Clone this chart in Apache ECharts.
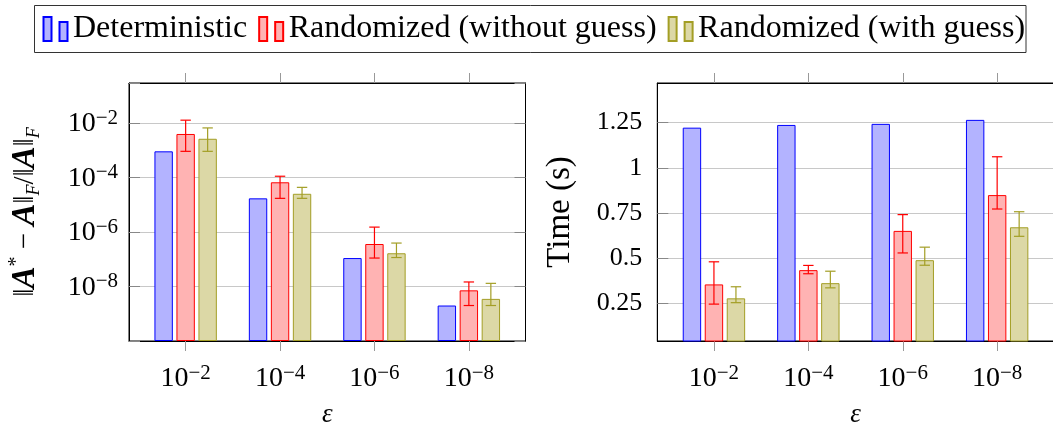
<!DOCTYPE html>
<html><head><meta charset="utf-8">
<script src="https://cdn.jsdelivr.net/npm/echarts@6/dist/echarts.min.js"></script>
<style>html,body{margin:0;padding:0;background:#fff}#c{width:1053px;height:426px}</style>
</head><body><div id="c"></div>
<script>
// ---- data ----
const epsExponents = [-2, -4, -6, -8];            // categories: epsilon = 10^k
const seriesNames = ['Deterministic', 'Randomized (without guess)', 'Randomized (with guess)'];
// relative error ||A* - A||_F / ||A||_F
const errDet          = [9.0e-4, 1.7e-5, 1.1e-7, 2.0e-9];
const errRandNoGuess  = [3.9e-3, 6.6e-5, 3.6e-7, 7.2e-9];
const errRandNoGuessLo= [9.0e-4, 1.7e-5, 1.1e-7, 2.0e-9];
const errRandNoGuessHi= [1.25e-2, 1.1e-4, 1.5e-6, 1.46e-8];
const errRandGuess    = [2.6e-3, 2.5e-5, 1.65e-7, 3.5e-9];
const errRandGuessLo  = [9.0e-4, 1.7e-5, 1.15e-7, 2.0e-9];
const errRandGuessHi  = [6.5e-3, 4.3e-5, 3.9e-7, 1.3e-8];
// time (s)
const timeDet           = [1.222, 1.237, 1.243, 1.265];
const timeRandNoGuess   = [0.355, 0.434, 0.651, 0.849];
const timeRandNoGuessLo = [0.246, 0.414, 0.529, 0.772];
const timeRandNoGuessHi = [0.480, 0.460, 0.741, 1.061];
const timeRandGuess     = [0.278, 0.362, 0.489, 0.671];
const timeRandGuessLo   = [0.254, 0.336, 0.461, 0.621];
const timeRandGuessHi   = [0.342, 0.428, 0.561, 0.757];
// tick labels
const errTickExponents = [-2, -4, -6, -8];
const timeTicks = [0.25, 0.5, 0.75, 1, 1.25];

// ---- styling constants ----
const SERIF = "'Liberation Serif', 'DejaVu Serif', serif";
const LOG_FLOOR = -10;      // bottom of the log axis (decades)
const LOG_TOP = -0.54;
const BAR_W = 18.4, BAR_GAP = 3.6;
const colors = [
  {fill: '#b3b3ff', stroke: '#0000ff'},
  {fill: '#ffb3b3', stroke: '#ff0000'},
  {fill: '#dcd8a6', stroke: '#a39e25'}
];
const toLog = v => Math.log10(v) - LOG_FLOOR;
const tickRich = {
  b: {fontFamily: SERIF, fontSize: 28, lineHeight: 30, color: '#000', verticalAlign: 'bottom'},
  s: {fontFamily: SERIF, fontSize: 21, lineHeight: 21, color: '#000', verticalAlign: 'top'}
};
const powLabel = e => '{b|10}{s|−' + Math.abs(e) + '}';

function pairs(arr, f) { return arr.map((v, i) => [i, f ? f(v) : v]); }
function errData(lo, hi, f) { return lo.map((v, i) => [i, f ? f(v) : v, f ? f(hi[i]) : hi[i]]); }

function errRender(offset, color) {
  return function (params, api) {
    const x = api.value(0);
    const pLo = api.coord([x, api.value(1)]);
    const pHi = api.coord([x, api.value(2)]);
    const cx = pLo[0] + offset, hw = 5.2;
    const st = {stroke: color, lineWidth: 1.2};
    return {type: 'group', children: [
      {type: 'line', shape: {x1: cx, y1: pLo[1], x2: cx, y2: pHi[1]}, style: st},
      {type: 'line', shape: {x1: cx - hw, y1: pLo[1], x2: cx + hw, y2: pLo[1]}, style: st},
      {type: 'line', shape: {x1: cx - hw, y1: pHi[1], x2: cx + hw, y2: pHi[1]}, style: st}
    ]};
  };
}

function barSeries(name, idx, data, axis) {
  return {
    type: 'bar', name: name, xAxisIndex: axis, yAxisIndex: axis,
    data: data, barWidth: BAR_W, barGap: (BAR_GAP / BAR_W * 100) + '%',
    itemStyle: {color: colors[idx].fill, borderColor: colors[idx].stroke, borderWidth: 1},
    clip: true, z: 2
  };
}

const gridBox = {show: true, borderColor: '#000', borderWidth: 1, backgroundColor: 'transparent',
  containLabel: false, outerBoundsMode: 'none'};
const xCommon = (gi) => ({
  type: 'value', gridIndex: gi, min: -0.6, max: 3.6, position: 'bottom',
  axisLine: {show: true, onZero: false, lineStyle: {color: '#000', width: 1}},
  axisTick: {show: true, length: 10, lineStyle: {color: '#999'}, customValues: [0, 1, 2, 3]},
  axisLabel: {customValues: [0, 1, 2, 3], margin: 22, rich: tickRich,
    formatter: v => powLabel(epsExponents[Math.round(v)])},
  splitLine: {show: false},
  name: 'ε', nameLocation: 'middle', nameGap: 60,
  nameTextStyle: {fontFamily: SERIF, fontSize: 27, fontStyle: 'italic', color: '#000'}
});
const xTop = (gi) => ({
  type: 'value', gridIndex: gi, min: -0.6, max: 3.6, position: 'top',
  axisLine: {show: true, onZero: false, lineStyle: {color: '#000'}},
  axisTick: {show: true, length: 10, lineStyle: {color: '#999'}, customValues: [0, 1, 2, 3]},
  axisLabel: {show: false}, splitLine: {show: false}
});

const option = {
  animation: false,
  backgroundColor: '#fff',
  graphic: [{type: 'rect', shape: {x: 34.5, y: 5.5, width: 991.5, height: 47},
    style: {fill: 'none', stroke: '#333', lineWidth: 1}, z: 10}],
  legend: {
    data: seriesNames, left: 42.5, top: 13, padding: 0, itemGap: 11,
    itemWidth: 25, itemHeight: 24,
    icon: 'path://M0 0H8V24H0Z M16 5H24V24H16Z',
    textStyle: {fontFamily: SERIF, fontSize: 32, color: '#000'}
  },
  grid: [
    Object.assign({left: 129, top: 83, width: 396.5, height: 258}, gridBox),
    Object.assign({left: 657.3, top: 83, width: 396.5, height: 258}, gridBox)
  ],
  xAxis: [xCommon(0), xCommon(1), xTop(0), xTop(1)],
  yAxis: [
    { // left: log error, shifted decades
      type: 'value', gridIndex: 0, min: 0, max: LOG_TOP - LOG_FLOOR, interval: 2,
      axisLine: {show: true, onZero: false, lineStyle: {color: '#000'}},
      axisTick: {show: true, inside: true, length: 11, lineStyle: {color: '#888'}},
      axisLabel: {margin: 11, rich: tickRich, formatter: v => {
        const e = Math.round(v + LOG_FLOOR);
        return (Math.abs(v + LOG_FLOOR - e) < 1e-6 && errTickExponents.indexOf(e) >= 0) ? powLabel(e) : '';
      }},
      splitLine: {show: true, lineStyle: {color: '#c8c8c8', width: 1}},
      name: '{n|‖}{A|A}{sup|*}{n| − }{A|A}{n|‖}{sub|F}{n|/‖}{A|A}{n|‖}{sub|F}',
      nameLocation: 'middle', nameRotate: 90, nameGap: 86,
      nameTextStyle: {fontFamily: SERIF, fontSize: 29, color: '#000', rich: {
        n: {fontFamily: SERIF, fontSize: 29, lineHeight: 36, color: '#000'},
        A: {fontFamily: SERIF, fontSize: 33, fontWeight: 'bold', fontStyle: 'italic', lineHeight: 36, color: '#000'},
        sup: {fontFamily: SERIF, fontSize: 20, lineHeight: 20, verticalAlign: 'top', color: '#000'},
        sub: {fontFamily: SERIF, fontSize: 18, fontStyle: 'italic', lineHeight: 18, verticalAlign: 'bottom', color: '#000'}
      }}
    },
    { // right: time
      type: 'value', gridIndex: 1, min: 0.042, max: 1.469,
      axisLine: {show: true, onZero: false, lineStyle: {color: '#000'}},
      axisTick: {show: true, inside: true, length: 11, lineStyle: {color: '#888'}, customValues: timeTicks},
      axisLabel: {margin: 15, customValues: timeTicks, fontFamily: SERIF, fontSize: 26, color: '#000',
        formatter: v => String(v)},
      splitLine: {show: true, lineStyle: {color: '#c8c8c8', width: 1}},
      name: 'Time (s)', nameLocation: 'middle', nameRotate: 90, nameGap: 80,
      nameTextStyle: {fontFamily: SERIF, fontSize: 33, color: '#000'}
    },
    { // left grid, right side ticks
      type: 'value', gridIndex: 0, position: 'right', min: 0, max: LOG_TOP - LOG_FLOOR, interval: 2,
      axisLine: {show: true, onZero: false, lineStyle: {color: '#000'}},
      axisTick: {show: true, inside: true, length: 11, lineStyle: {color: '#888'}},
      axisLabel: {show: false}, splitLine: {show: false}
    }
  ],
  series: [
    barSeries(seriesNames[0], 0, pairs(errDet, toLog), 0),
    barSeries(seriesNames[1], 1, pairs(errRandNoGuess, toLog), 0),
    barSeries(seriesNames[2], 2, pairs(errRandGuess, toLog), 0),
    barSeries(seriesNames[0], 0, pairs(timeDet), 1),
    barSeries(seriesNames[1], 1, pairs(timeRandNoGuess), 1),
    barSeries(seriesNames[2], 2, pairs(timeRandGuess), 1),
    {type: 'custom', xAxisIndex: 0, yAxisIndex: 0, z: 5, data: errData(errRandNoGuessLo, errRandNoGuessHi, toLog),
      renderItem: errRender(0, '#ff0000'), encode: {x: 0, y: [1, 2]}},
    {type: 'custom', xAxisIndex: 0, yAxisIndex: 0, z: 5, data: errData(errRandGuessLo, errRandGuessHi, toLog),
      renderItem: errRender(BAR_W + BAR_GAP, '#a39e25'), encode: {x: 0, y: [1, 2]}},
    {type: 'custom', xAxisIndex: 1, yAxisIndex: 1, z: 5, data: errData(timeRandNoGuessLo, timeRandNoGuessHi),
      renderItem: errRender(0, '#ff0000'), encode: {x: 0, y: [1, 2]}},
    {type: 'custom', xAxisIndex: 1, yAxisIndex: 1, z: 5, data: errData(timeRandGuessLo, timeRandGuessHi),
      renderItem: errRender(BAR_W + BAR_GAP, '#a39e25'), encode: {x: 0, y: [1, 2]}}
  ]
};
const chart = echarts.init(document.getElementById('c'), null, {renderer: 'canvas'});
chart.setOption(option);
</script></body></html>
